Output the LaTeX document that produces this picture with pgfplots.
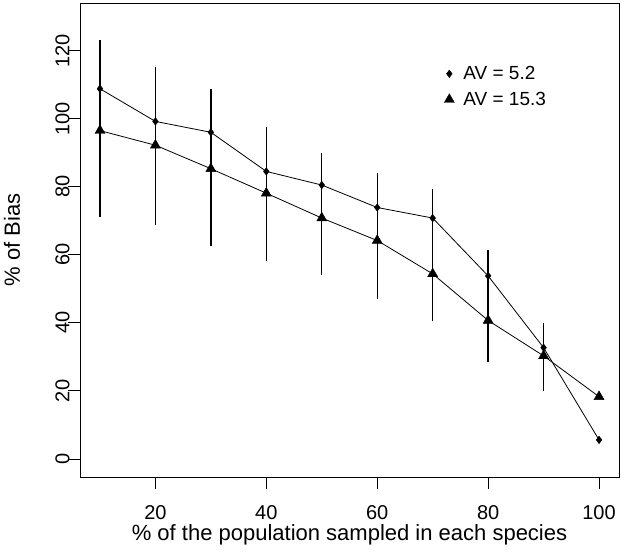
\documentclass[border=0pt]{standalone}
\usepackage{pgfplots}
\pgfplotsset{compat=1.18}
\usepackage{fontspec}
\setmainfont{Liberation Sans}
\newcommand{\ebar}[3]{\addplot[black, line width=1.3bp, mark=none, forget plot] coordinates {(#1,#2) (#1,#3)};}
\begin{document}
\begin{tikzpicture}
\useasboundingbox (0,0) rectangle (622bp,553bp);
\begin{axis}[
 at={(80bp,76bp)}, anchor=south west,
 scale only axis, width=539bp, height=474bp,
 xmin=6.4, xmax=103.6, ymin=-5.3, ymax=134,
 xtick={20,40,60,80,100}, ytick={0,20,40,60,80,100,120},
 tick pos=left, tick align=outside, major tick length=12bp,
 axis line style={line width=0.9bp},
 every tick/.style={black, line width=0.9bp},
 /pgf/number format/assume math mode=true,
 tick label style={font=\fontsize{20bp}{24bp}\selectfont},
 every y tick label/.append style={rotate=90, anchor=south, yshift=-5bp},
 xticklabel={\raisebox{-13bp}[14bp][0pt]{\pgfmathprintnumber{\tick}}},
 label style={font=\fontsize{22bp}{26bp}\selectfont},
 xlabel={\% of the population sampled in each species},
 ylabel={\% of Bias},
 xlabel style={at={(axis description cs:0.5,-0.133)}, anchor=base},
 ylabel style={at={(axis description cs:-0.126,0.5)}, anchor=center},
 legend style={at={(axis description cs:0.67,0.875)}, anchor=north west, draw=none, fill=none,
   font=\fontsize{19bp}{22bp}\selectfont, row sep=7bp,
   /tikz/every odd column/.append style={column sep=7bp}},
 legend cell align=left,
]
% connecting lines
\addplot[black, line width=0.8bp, mark=none, forget plot] coordinates {
 (10,108.8) (20,99.2) (30,96.0) (40,84.5) (50,80.5) (60,73.9) (70,70.8) (80,53.8) (90,32.7) (100,5.6)};
\addplot[black, line width=0.8bp, mark=none, forget plot] coordinates {
 (10,96.5) (20,92.2) (30,85.3) (40,78.1) (50,70.8) (60,64.2) (70,54.4) (80,40.7) (90,30.3) (100,18.3)};
% error bars
\ebar{10}{71.2}{123.2}
\ebar{20}{68.8}{115.1}
\ebar{30}{62.7}{108.7}
\ebar{40}{58.2}{97.7}
\ebar{50}{54.1}{89.9}
\ebar{60}{47.1}{84.0}
\ebar{70}{40.4}{79.4}
\ebar{80}{28.6}{61.3}
\ebar{90}{20.1}{39.9}
% markers
\addplot[only marks, mark=diamond*, mark size=3.8bp, black] coordinates {
 (10,108.8) (20,99.2) (30,96.0) (40,84.5) (50,80.5) (60,73.9) (70,70.8) (80,53.8) (90,32.7) (100,5.6)};
\addlegendentry{AV = 5.2}
\addplot[only marks, mark=triangle*, mark size=5.8bp, black] coordinates {
 (10,96.5) (20,92.2) (30,85.3) (40,78.1) (50,70.8) (60,64.2) (70,54.4) (80,40.7) (90,30.3) (100,18.3)};
\addlegendentry{AV = 15.3}
\end{axis}
\end{tikzpicture}
\end{document}
